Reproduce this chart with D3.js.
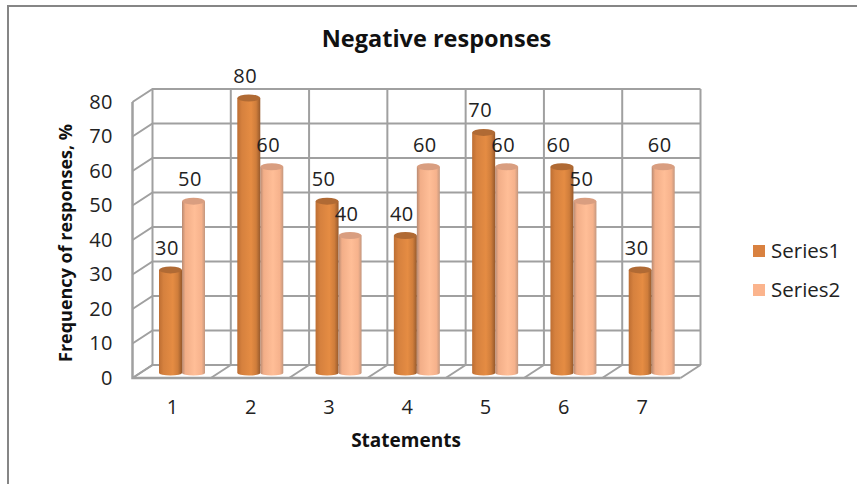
<!DOCTYPE html>
<html>
<head>
<meta charset="utf-8">
<script src="https://cdn.jsdelivr.net/npm/d3@7"></script>
<style>
  html, body { margin: 0; padding: 0; background: #fff; }
  svg { display: block; }
  text { font-family: "Open Sans", sans-serif; fill: #222; }
</style>
</head>
<body>
<div id="chart"></div>
<script>
const categories = ["1", "2", "3", "4", "5", "6", "7"];
const seriesNames = ["Series1", "Series2"];
const series1 = [30, 80, 50, 40, 70, 60, 30];
const series2 = [50, 60, 40, 60, 60, 50, 60];
const yTicks = [0, 10, 20, 30, 40, 50, 60, 70, 80];

const width = 857, height = 484;
const depthX = 20, depthY = 13; // offset between the front and back of the 3d box

const svg = d3.select("#chart").append("svg")
    .attr("width", width)
    .attr("height", height);

// picture frame, only top and left show up fully
svg.append("path")
    .attr("d", "M8,484V6H857")
    .attr("fill", "none")
    .attr("stroke", "#868686")
    .attr("stroke-width", 2);

// back wall scales, the front and the bars are the same scales moved
const xBack = d3.scaleBand().domain(categories).range([152.5, 700.5]);
const yBack = d3.scaleLinear().domain([0, 80]).range([365, 89]);
const xFront = xBack.copy().range([152.5 - depthX, 700.5 - depthX]);
const yFront = yBack.copy().range([365 + depthY, 89 + depthY]);
const xBars = xBack.copy().range([143, 691]);
const yBars = yBack.copy().range([373, 98]);
const xInner = d3.scaleBand().domain(seriesNames).range([16, 62]);

// gradients for the cylinders
const defs = svg.append("defs");
function addGradient(id, stops) {
    const g = defs.append("linearGradient").attr("id", id);
    stops.forEach(s => g.append("stop").attr("offset", s[0]).attr("stop-color", s[1]));
}
addGradient("body1", [[0, "#bd6e33"], [0.2, "#d6813e"], [0.6, "#e58c43"], [0.82, "#cf7d3b"], [1, "#96592c"]]);
addGradient("body2", [[0, "#b88a72"], [0.15, "#f2ae88"], [0.55, "#ffbe97"], [0.85, "#f6b28c"], [1, "#c4977e"]]);
const topColors = ["#b06a34", "#d99e80"];
const bodyIds = ["url(#body1)", "url(#body2)"];
const legendColors = ["#d98140", "#fbb48d"];

// walls
const grid = svg.append("g")
    .attr("fill", "none")
    .attr("stroke", "#a0a0a0")
    .attr("stroke-width", 2);

yTicks.forEach(t => {
    // back wall line plus the bit running across the side wall
    grid.append("path")
        .attr("d", `M${xFront.range()[0]},${yFront(t)}L${xBack.range()[0]},${yBack(t)}H${xBack.range()[1]}`);
});

const edges = xBack.domain().map(c => xBack(c)).concat(xBack.range()[1]);
edges.forEach(x => {
    grid.append("line")
        .attr("x1", x).attr("x2", x)
        .attr("y1", yBack(80)).attr("y2", yBack(0));
    // floor
    grid.append("line")
        .attr("x1", x).attr("x2", x - depthX)
        .attr("y1", yBack(0)).attr("y2", yFront(0));
});

grid.append("path")
    .attr("d", `M${xFront.range()[0]},${yFront(80)}V${yFront(0)}H${xFront.range()[1]}`)
    .attr("stroke-width", 2.5);

// cylinders
const groups = svg.selectAll(".cat")
    .data(categories)
    .enter().append("g")
    .attr("class", "cat")
    .attr("transform", d => `translate(${xBars(d)},0)`);

[series1, series2].forEach((values, s) => {
    const name = seriesNames[s];
    const bw = xInner.bandwidth();
    const cx = xInner(name) + bw / 2;
    const base = yBars(0);
    const ry = 2.5;

    groups.append("path")
        .attr("fill", bodyIds[s])
        .attr("d", (d, i) => {
            const top = yBars(values[i]);
            return `M${cx - bw / 2},${top}V${base}A${bw / 2},${ry} 0 0 0 ${cx + bw / 2},${base}V${top}Z`;
        });

    groups.append("ellipse")
        .attr("fill", topColors[s])
        .attr("cx", cx)
        .attr("cy", (d, i) => yBars(values[i]))
        .attr("rx", bw / 2)
        .attr("ry", 3.5);
});

// data labels go on last so that they sit over the bars
[series1, series2].forEach((values, s) => {
    const name = seriesNames[s];
    groups.append("text")
        .attr("x", xInner(name) + xInner.bandwidth() / 2 - 3.5)
        .attr("y", (d, i) => yBars(values[i]) - 15)
        .attr("text-anchor", "middle")
        .style("font-size", "20px")
        .style("letter-spacing", "0.5px")
        .text((d, i) => values[i]);
});

// axes, only their labels are visible
const yAxis = svg.append("g")
    .attr("transform", "translate(116,0)")
    .call(d3.axisLeft(yFront).tickValues(yTicks).tickSize(0).tickPadding(3));
const xAxis = svg.append("g")
    .attr("transform", "translate(1,400)")
    .call(d3.axisBottom(xFront).tickSize(0).tickPadding(0));
[yAxis, xAxis].forEach(a => {
    a.select(".domain").remove();
    a.selectAll("text")
        .style("font-size", "20px")
        .style("letter-spacing", "0.5px")
        .style("font-family", '"Open Sans", sans-serif')
        .attr("fill", "#222");
});

// titles
svg.append("text")
    .attr("x", 436.5).attr("y", 47)
    .attr("text-anchor", "middle")
    .style("font-size", "23.5px")
    .style("font-weight", "bold")
    .style("fill", "#111")
    .text("Negative responses");

svg.append("text")
    .attr("x", 406).attr("y", 447)
    .attr("text-anchor", "middle")
    .style("font-size", "19px")
    .style("font-weight", "bold")
    .style("fill", "#111")
    .text("Statements");

svg.append("text")
    .attr("transform", "translate(72,243) rotate(-90)")
    .attr("text-anchor", "middle")
    .style("font-size", "18px")
    .style("font-weight", "bold")
    .style("fill", "#111")
    .text("Frequency of responses, %");

// legend
const legend = svg.selectAll(".legend")
    .data(seriesNames)
    .enter().append("g")
    .attr("class", "legend")
    .attr("transform", (d, i) => `translate(753,${245 + i * 39})`);

legend.append("rect")
    .attr("width", 12).attr("height", 12)
    .attr("fill", (d, i) => legendColors[i]);

legend.append("text")
    .attr("x", 18).attr("y", 13)
    .style("font-size", "20.5px")
    .text(d => d);
</script>
</body>
</html>
